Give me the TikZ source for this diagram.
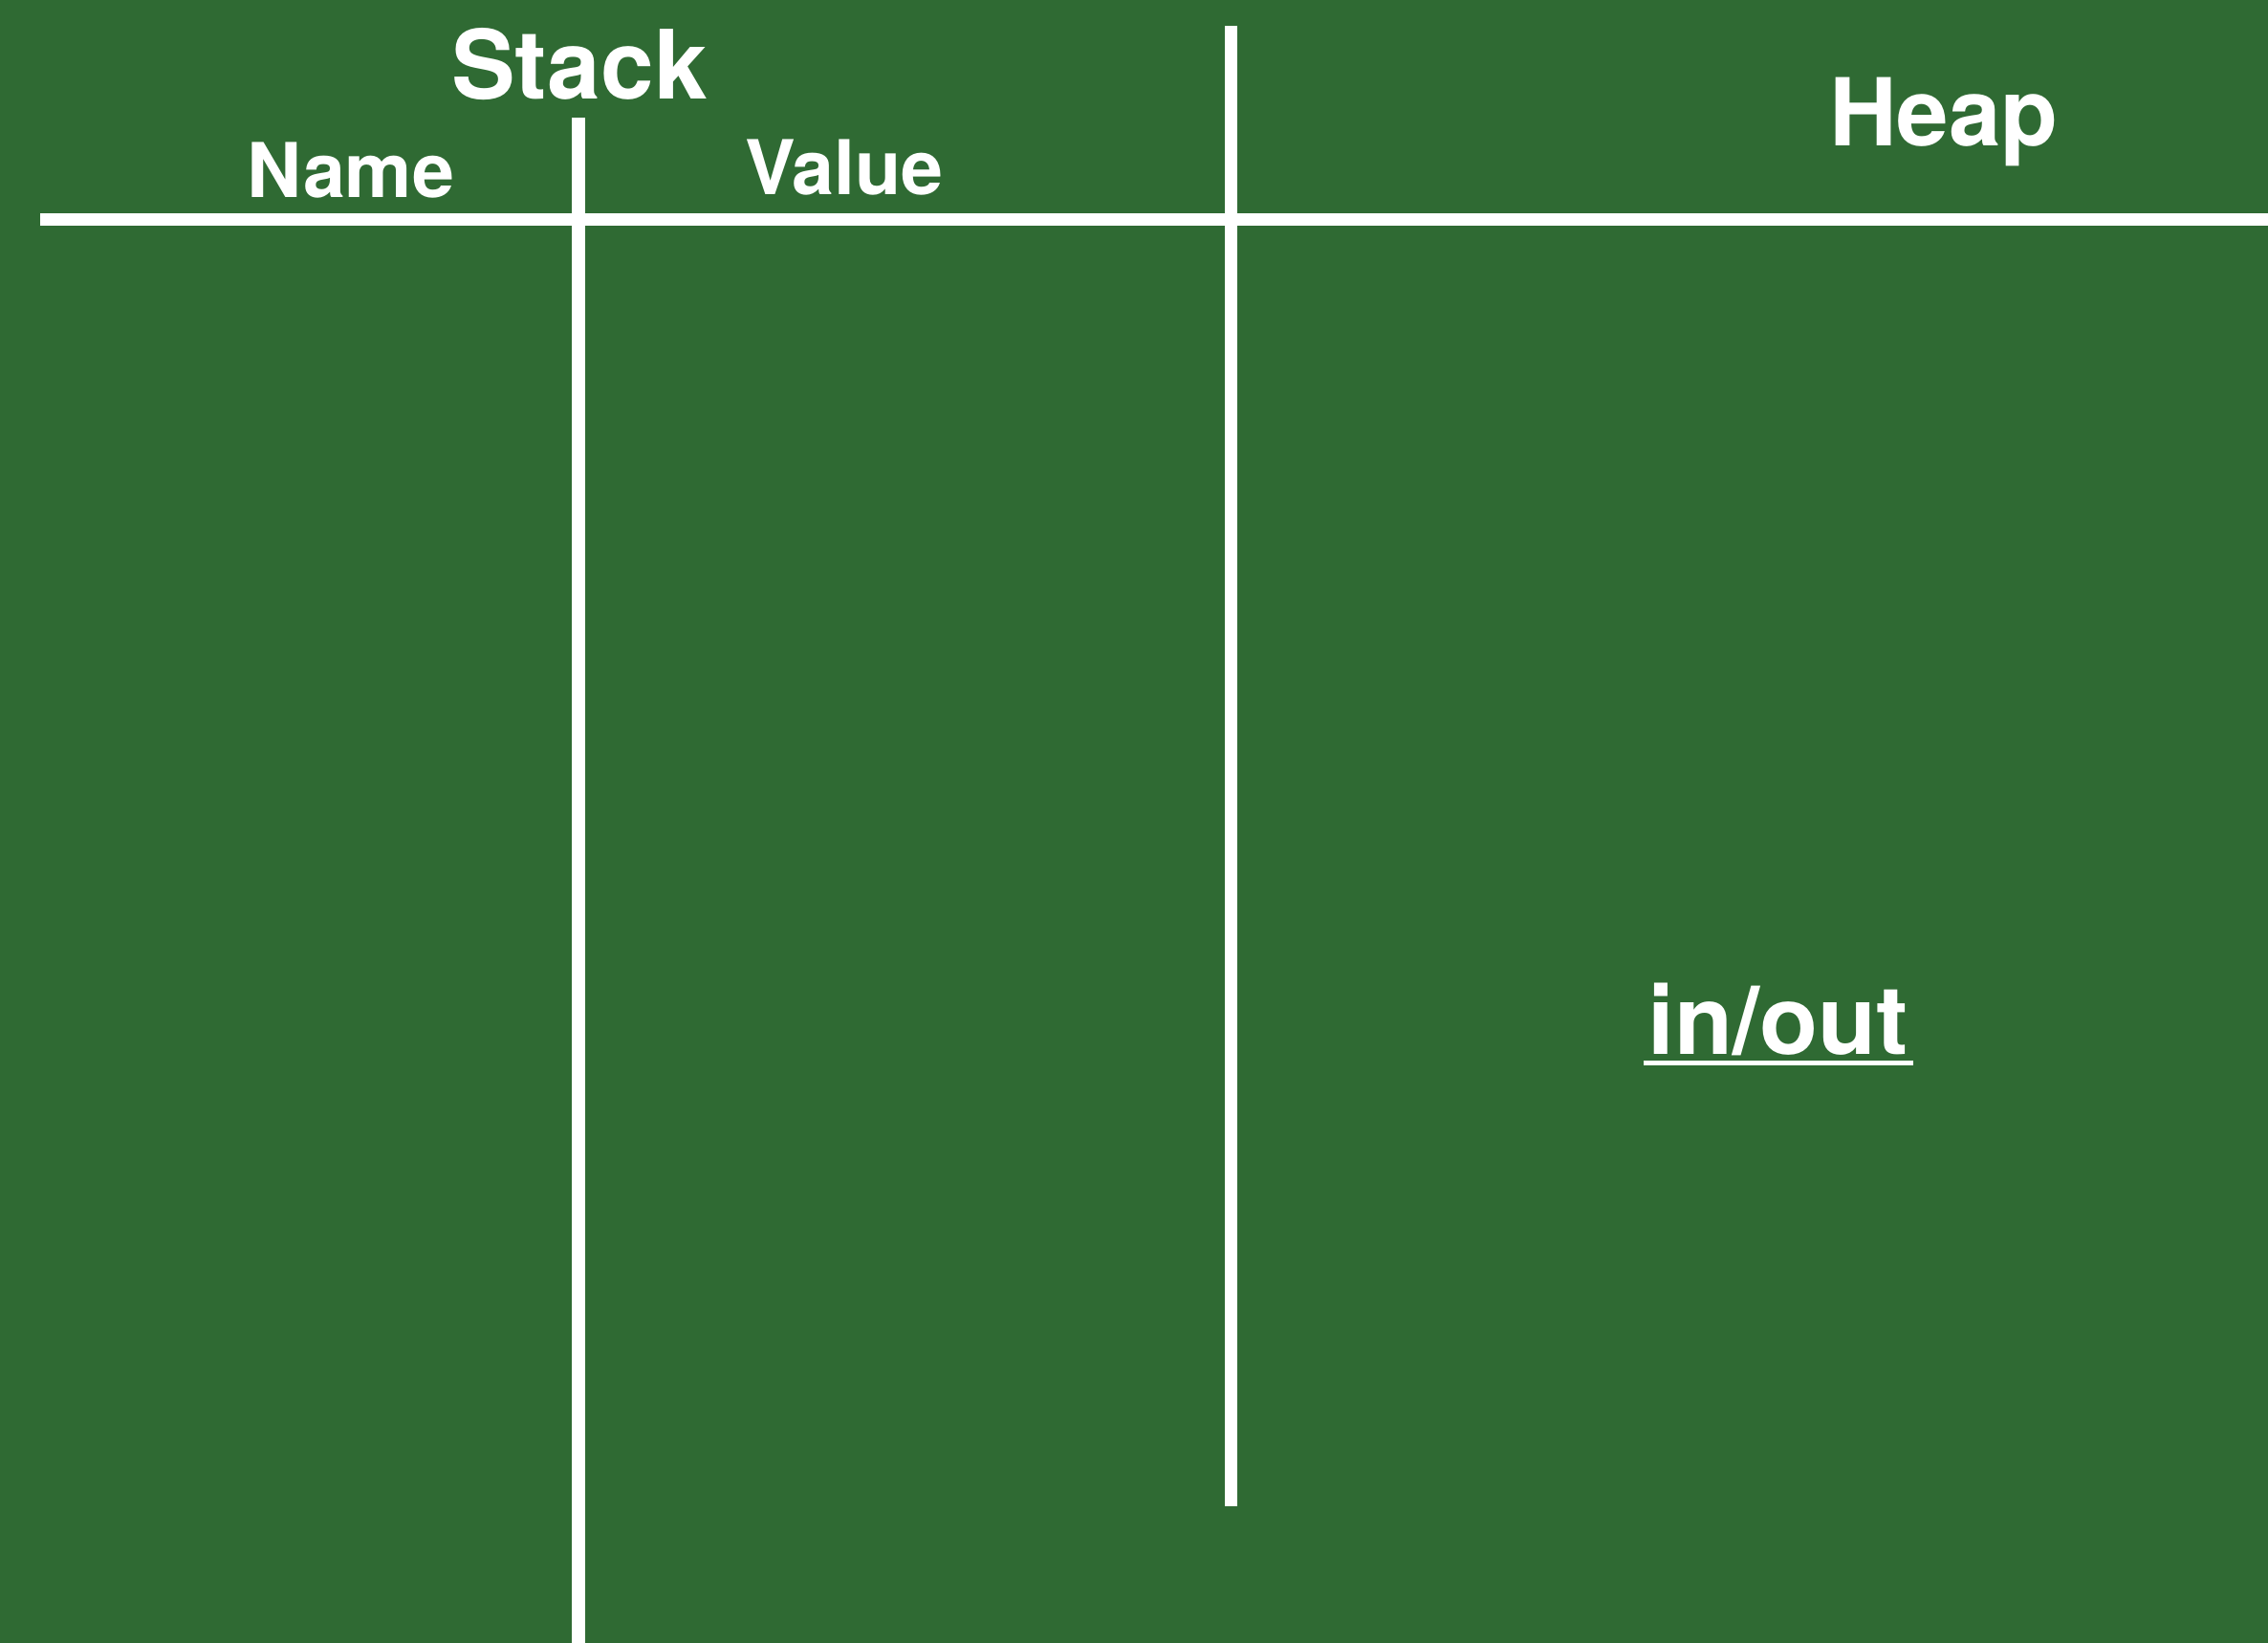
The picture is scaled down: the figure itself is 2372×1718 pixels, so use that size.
\documentclass[tikz,border=0pt]{standalone}
\usepackage{fontspec}
\setmainfont{TeX Gyre Heros}
\definecolor{felt}{RGB}{47,106,51}
\begin{document}
\begin{tikzpicture}[x=1pt,y=-1pt,
  rule/.style={draw=white,line width=13pt},
  label/.style={text=white,font=\bfseries,inner sep=0pt,anchor=base},
  big/.style={label,font=\bfseries\fontsize{100}{110}\selectfont},
  small/.style={label,font=\bfseries\fontsize{79}{90}\selectfont}]
\fill[felt] (0,0) rectangle (2372,1718);
\useasboundingbox (0,0) rectangle (2372,1718);
% rule end points
\coordinate (hL) at (42,229);
\coordinate (hR) at (2372,229);
\coordinate (v1T) at (605,123);
\coordinate (v1B) at (605,1718);
\coordinate (v2T) at (1287,27);
\coordinate (v2B) at (1287,1575);
\draw[rule] (hL) -- (hR);
\draw[rule,line width=14pt] (v1T) -- (v1B);
\draw[rule] (v2T) -- (v2B);
% labels
\node[big] (stack) at (606,104) {Stack};
\node[small] (name) at (367,206) {Name};
\node[small] (value) at (883,204) {Value};
\node[big,font=\bfseries\fontsize{98}{110}\selectfont] (heap) at (2033,153) {Heap};
\node[big,inner xsep=5pt] (inout) at (1860,1102) {in/out};
\draw[draw=white,line width=5pt] ([yshift=-9.5pt]inout.base west) -- ([yshift=-9.5pt]inout.base east);
\end{tikzpicture}
\end{document}
